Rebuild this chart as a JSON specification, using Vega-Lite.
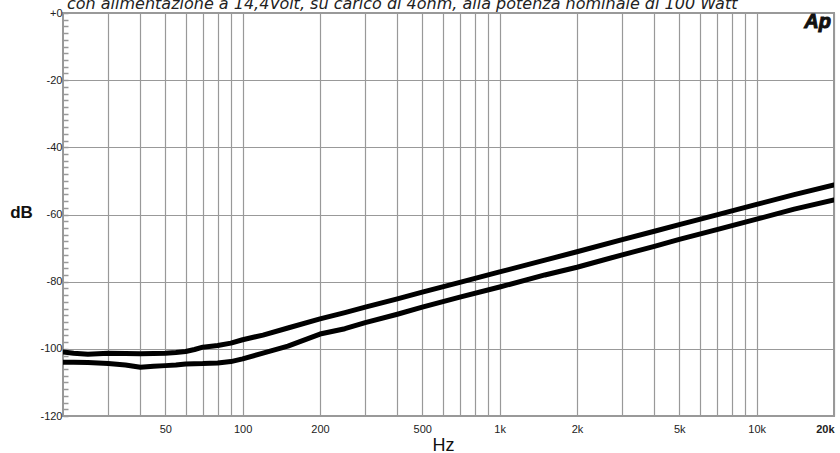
{
  "$schema": "https://vega.github.io/schema/vega-lite/v6.json",
  "width": 771,
  "height": 403,
  "autosize": {"type": "none"},
  "padding": {"left": 63, "top": 13, "right": 6, "bottom": 37},
  "background": "white",
  "config": {
    "view": {"stroke": "#999", "strokeWidth": 2},
    "axis": {"labelOverlap": false}
  },
  "title": {
    "text": "con alimentazione a 14,4Volt, su carico di 4ohm, alla potenza nominale di 100 Watt",
    "anchor": "start",
    "frame": "group",
    "dx": 4,
    "offset": -18,
    "baseline": "alphabetic",
    "font": "DejaVu Sans",
    "fontSize": 16,
    "fontStyle": "italic",
    "fontWeight": "normal",
    "color": "#222"
  },
  "datasets": {
    "curves": [
      {"f": 20, "db": -100.9, "s": "A"},
      {"f": 22, "db": -101.3, "s": "A"},
      {"f": 25, "db": -101.6, "s": "A"},
      {"f": 30, "db": -101.3, "s": "A"},
      {"f": 35, "db": -101.4, "s": "A"},
      {"f": 40, "db": -101.5, "s": "A"},
      {"f": 45, "db": -101.4, "s": "A"},
      {"f": 50, "db": -101.3, "s": "A"},
      {"f": 55, "db": -101.1, "s": "A"},
      {"f": 60, "db": -100.8, "s": "A"},
      {"f": 65, "db": -100.2, "s": "A"},
      {"f": 70, "db": -99.5, "s": "A"},
      {"f": 80, "db": -99.0, "s": "A"},
      {"f": 90, "db": -98.3, "s": "A"},
      {"f": 100, "db": -97.3, "s": "A"},
      {"f": 120, "db": -95.9, "s": "A"},
      {"f": 150, "db": -93.8, "s": "A"},
      {"f": 200, "db": -91.1, "s": "A"},
      {"f": 250, "db": -89.2, "s": "A"},
      {"f": 300, "db": -87.6, "s": "A"},
      {"f": 400, "db": -85.1, "s": "A"},
      {"f": 500, "db": -83.1, "s": "A"},
      {"f": 700, "db": -80.2, "s": "A"},
      {"f": 1000, "db": -77.1, "s": "A"},
      {"f": 1500, "db": -73.6, "s": "A"},
      {"f": 2000, "db": -71.1, "s": "A"},
      {"f": 3000, "db": -67.5, "s": "A"},
      {"f": 4000, "db": -65.0, "s": "A"},
      {"f": 5000, "db": -63.0, "s": "A"},
      {"f": 7000, "db": -60.1, "s": "A"},
      {"f": 10000, "db": -57.0, "s": "A"},
      {"f": 14000, "db": -54.1, "s": "A"},
      {"f": 20000, "db": -51.2, "s": "A"},
      {"f": 20, "db": -104.0, "s": "B"},
      {"f": 22, "db": -104.0, "s": "B"},
      {"f": 25, "db": -104.1, "s": "B"},
      {"f": 30, "db": -104.4, "s": "B"},
      {"f": 35, "db": -104.8, "s": "B"},
      {"f": 40, "db": -105.5, "s": "B"},
      {"f": 45, "db": -105.2, "s": "B"},
      {"f": 50, "db": -105.0, "s": "B"},
      {"f": 55, "db": -104.8, "s": "B"},
      {"f": 60, "db": -104.5, "s": "B"},
      {"f": 70, "db": -104.4, "s": "B"},
      {"f": 80, "db": -104.2, "s": "B"},
      {"f": 90, "db": -103.8, "s": "B"},
      {"f": 100, "db": -103.0, "s": "B"},
      {"f": 120, "db": -101.3, "s": "B"},
      {"f": 150, "db": -99.2, "s": "B"},
      {"f": 200, "db": -95.6, "s": "B"},
      {"f": 250, "db": -94.0, "s": "B"},
      {"f": 300, "db": -92.2, "s": "B"},
      {"f": 400, "db": -89.7, "s": "B"},
      {"f": 500, "db": -87.6, "s": "B"},
      {"f": 700, "db": -84.6, "s": "B"},
      {"f": 1000, "db": -81.6, "s": "B"},
      {"f": 1500, "db": -78.0, "s": "B"},
      {"f": 2000, "db": -75.7, "s": "B"},
      {"f": 3000, "db": -72.0, "s": "B"},
      {"f": 4000, "db": -69.5, "s": "B"},
      {"f": 5000, "db": -67.4, "s": "B"},
      {"f": 7000, "db": -64.5, "s": "B"},
      {"f": 10000, "db": -61.4, "s": "B"},
      {"f": 14000, "db": -58.4, "s": "B"},
      {"f": 20000, "db": -55.7, "s": "B"}
    ],
    "logo": [{"f": 17260, "db": -4.5, "t": "Ap"}]
  },
  "layer": [
    {
      "data": {"name": "curves"},
      "mark": {"type": "line", "color": "black", "strokeWidth": 5, "strokeCap": "round", "strokeJoin": "round", "clip": true},
      "encoding": {
        "x": {
          "field": "f",
          "type": "quantitative",
          "scale": {"type": "log", "domain": [20, 20000], "nice": false},
          "axis": {
            "values": [30, 40, 50, 60, 70, 80, 90, 100, 200, 300, 400, 500, 600, 700, 800, 900, 1000, 2000, 3000, 4000, 5000, 6000, 7000, 8000, 9000, 10000, 20000],
            "tickCount": 200,
            "labelExpr": "indexof([50,100,200,500,1000,2000,5000,10000,20000], datum.value) >= 0 ? (datum.value >= 1000 ? (datum.value/1000) + 'k' : '' + datum.value) : ''",
            "labelFlush": true,
            "labelFont": "Liberation Sans",
            "labelFontSize": 11,
            "labelColor": "#222",
            "labelPadding": 7,
            "labelFontWeight": {"condition": {"test": "datum.value == 20000", "value": "bold"}, "value": "normal"},
            "ticks": false,
            "domain": false,
            "grid": true,
            "gridColor": "#999",
            "gridWidth": 1.2,
            "title": "Hz",
            "titleFont": "Liberation Sans",
            "titleFontSize": 18,
            "titleFontWeight": "normal",
            "titleColor": "#111",
            "titleX": 380,
            "titleY": 34,
            "titleAlign": "center",
            "titleBaseline": "alphabetic"
          }
        },
        "y": {
          "field": "db",
          "type": "quantitative",
          "scale": {"domain": [-120, 0], "nice": false},
          "axis": {
            "values": [-120, -118, -116, -114, -112, -110, -108, -106, -104, -102, -100, -98, -96, -94, -92, -90, -88, -86, -84, -82, -80, -78, -76, -74, -72, -70, -68, -66, -64, -62, -60, -58, -56, -54, -52, -50, -48, -46, -44, -42, -40, -38, -36, -34, -32, -30, -28, -26, -24, -22, -20, -18, -16, -14, -12, -10, -8, -6, -4, -2, 0],
            "tickCount": 200,
            "labelExpr": "datum.value % 20 == 0 ? (datum.value == 0 ? '+0' : '' + datum.value) : ''",
            "labelFont": "Liberation Sans",
            "labelFontSize": 11,
            "labelColor": "#222",
            "labelPadding": 6,
            "tickSize": -5,
            "tickColor": "#999",
            "tickWidth": 1.5,
            "domain": false,
            "grid": true,
            "gridColor": "#999",
            "gridWidth": 1.2,
            "gridOpacity": {"condition": {"test": "datum.value % 20 == 0", "value": 1}, "value": 0},
            "title": "dB",
            "titleAngle": 0,
            "titleFont": "Liberation Sans",
            "titleFontSize": 17,
            "titleFontWeight": "bold",
            "titleColor": "#111",
            "titleX": -42,
            "titleY": 199,
            "titleAlign": "center",
            "titleBaseline": "middle"
          }
        },
        "detail": {"field": "s", "type": "nominal"}
      }
    },
    {
      "data": {"name": "logo"},
      "mark": {"type": "text", "font": "Liberation Sans", "fontSize": 20, "fontWeight": "bold", "fontStyle": "italic", "color": "#111", "stroke": "#111", "strokeWidth": 1, "align": "center", "baseline": "alphabetic", "letterSpacing": -1},
      "encoding": {
        "x": {"field": "f", "type": "quantitative"},
        "y": {"field": "db", "type": "quantitative"},
        "text": {"field": "t"}
      }
    }
  ]
}
